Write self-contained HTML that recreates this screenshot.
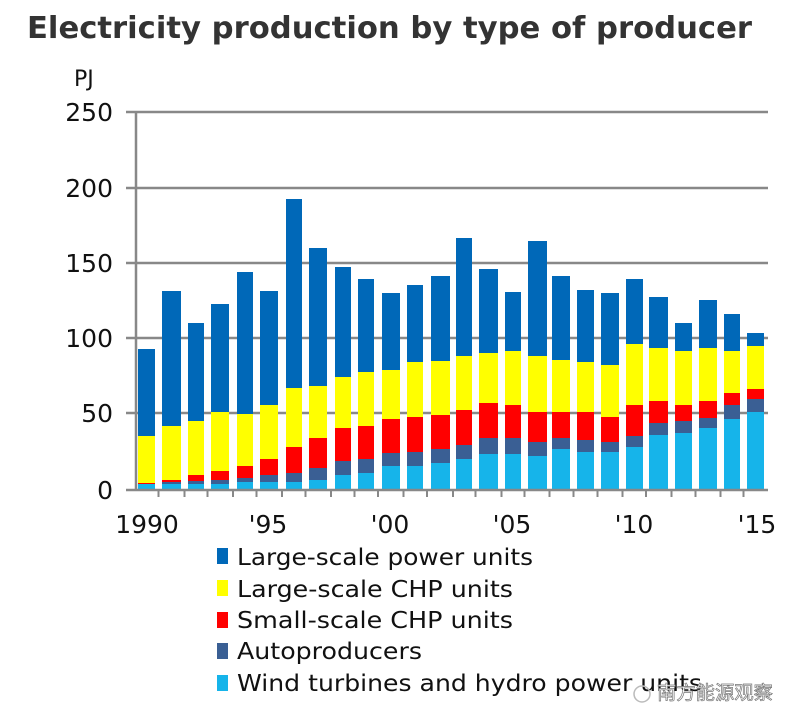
<!DOCTYPE html>
<html><head><meta charset="utf-8"><style>
html,body{margin:0;padding:0;background:#fff;}
svg{display:block;font-family:"DejaVu Sans","Liberation Sans","Noto Sans CJK SC",sans-serif;}
</style></head><body>
<svg id="s" width="800" height="728" viewBox="0 0 800 728" xmlns="http://www.w3.org/2000/svg">
<rect width="800" height="728" fill="#fff"/>
<text x="27" y="38" font-size="30" font-weight="bold" fill="#333" textLength="725" lengthAdjust="spacingAndGlyphs">Electricity production by type of producer</text>
<text x="74" y="86" font-size="22" fill="#111">PJ</text>
<g stroke="#888" stroke-width="2.5">
<line x1="126" y1="112" x2="768" y2="112"/>
<line x1="126" y1="188" x2="768" y2="188"/>
<line x1="126" y1="263" x2="768" y2="263"/>
<line x1="126" y1="338" x2="768" y2="338"/>
<line x1="126" y1="413" x2="768" y2="413"/>
</g>
<g font-size="25" fill="#111" text-anchor="end">
<text x="113" y="121">250</text><text x="113" y="197">200</text><text x="113" y="272">150</text>
<text x="113" y="347">100</text><text x="113" y="422">50</text><text x="113" y="499">0</text>
</g>
<g id="bars"></g>
<g stroke="#888" stroke-width="2.5">
<line x1="136" y1="112" x2="136" y2="491"/>
<line x1="126" y1="490" x2="768" y2="490"/>
</g>
<g id="ticks" stroke="#888" stroke-width="2"></g>
<g font-size="25" fill="#111" text-anchor="middle">
<text x="147" y="533">1990</text><text x="268" y="533">'95</text><text x="390" y="533">'00</text>
<text x="512" y="533">'05</text><text x="634" y="533">'10</text><text x="757" y="533">'15</text>
</g>
<g font-size="23" fill="#111">
<rect x="217" y="548" width="11" height="16" fill="#0068b8"/><text x="237" y="565" textLength="296" lengthAdjust="spacingAndGlyphs">Large-scale power units</text>
<rect x="217" y="580" width="11" height="16" fill="#ffff00"/><text x="237" y="597" textLength="276" lengthAdjust="spacingAndGlyphs">Large-scale CHP units</text>
<rect x="217" y="612" width="11" height="16" fill="#ff0000"/><text x="237" y="628" textLength="276" lengthAdjust="spacingAndGlyphs">Small-scale CHP units</text>
<rect x="217" y="643" width="11" height="16" fill="#3a5f94"/><text x="237" y="659" textLength="185" lengthAdjust="spacingAndGlyphs">Autoproducers</text>
<rect x="217" y="675" width="11" height="16" fill="#16b4ea"/><text x="237" y="691" textLength="465" lengthAdjust="spacingAndGlyphs">Wind turbines and hydro power units</text>
</g>
<circle cx="642" cy="694" r="8" fill="none" stroke="#bbb" stroke-width="1.5"/>
<text x="657" y="699" font-size="19" fill="#fff" stroke="#777" stroke-width="0.7" textLength="116" lengthAdjust="spacingAndGlyphs" font-family="Noto Sans CJK SC,sans-serif">南方能源观察</text>
</svg>
<script>
var d=[
[138,155,349,436,483,487,484],[162,181,291,426,480,482,484],[188,204,323,421,475,481,484],
[211,229,304,412,471,480,484],[237,253,272,414,466,478,482],[260,278,291,405,459,475,482],
[286,302,199,388,447,473,482],[309,327,248,386,438,468,480],[335,351,267,377,428,461,475],
[358,374,279,372,426,459,473],[382,400,293,370,419,453,466],[407,423,285,362,417,452,466],
[431,450,276,361,415,449,463],[456,472,238,356,410,445,459],[479,498,269,353,403,438,454],
[505,521,292,351,405,438,454],[528,547,241,356,412,442,456],[552,570,276,360,412,438,449],
[577,594,290,362,412,440,452],[601,619,293,365,417,442,452],[626,643,279,344,405,436,447],
[649,668,297,348,401,423,435],[675,692,323,351,405,421,433],[699,717,300,348,401,418,428],
[724,740,314,351,393,405,419],[747,764,333,346,389,399,412]];
var c=["#0068b8","#ffff00","#ff0000","#3a5f94","#16b4ea"],ns="http://www.w3.org/2000/svg",g=document.getElementById("bars"),t=document.getElementById("ticks");
d.forEach(function(b,i){for(var k=0;k<5;k++){var y1=b[2+k],y2=(k<4?b[3+k]:490);var r=document.createElementNS(ns,"rect");
r.setAttribute("x",b[0]);r.setAttribute("width",b[1]-b[0]);r.setAttribute("y",y1);r.setAttribute("height",Math.max(0,y2-y1));r.setAttribute("fill",c[k]);g.appendChild(r);}
if(i<25){var x=(b[1]+d[i+1][0])/2;var l=document.createElementNS(ns,"line");l.setAttribute("x1",x);l.setAttribute("x2",x);l.setAttribute("y1",490);l.setAttribute("y2",497);t.appendChild(l);}});
</script>
</body></html>
